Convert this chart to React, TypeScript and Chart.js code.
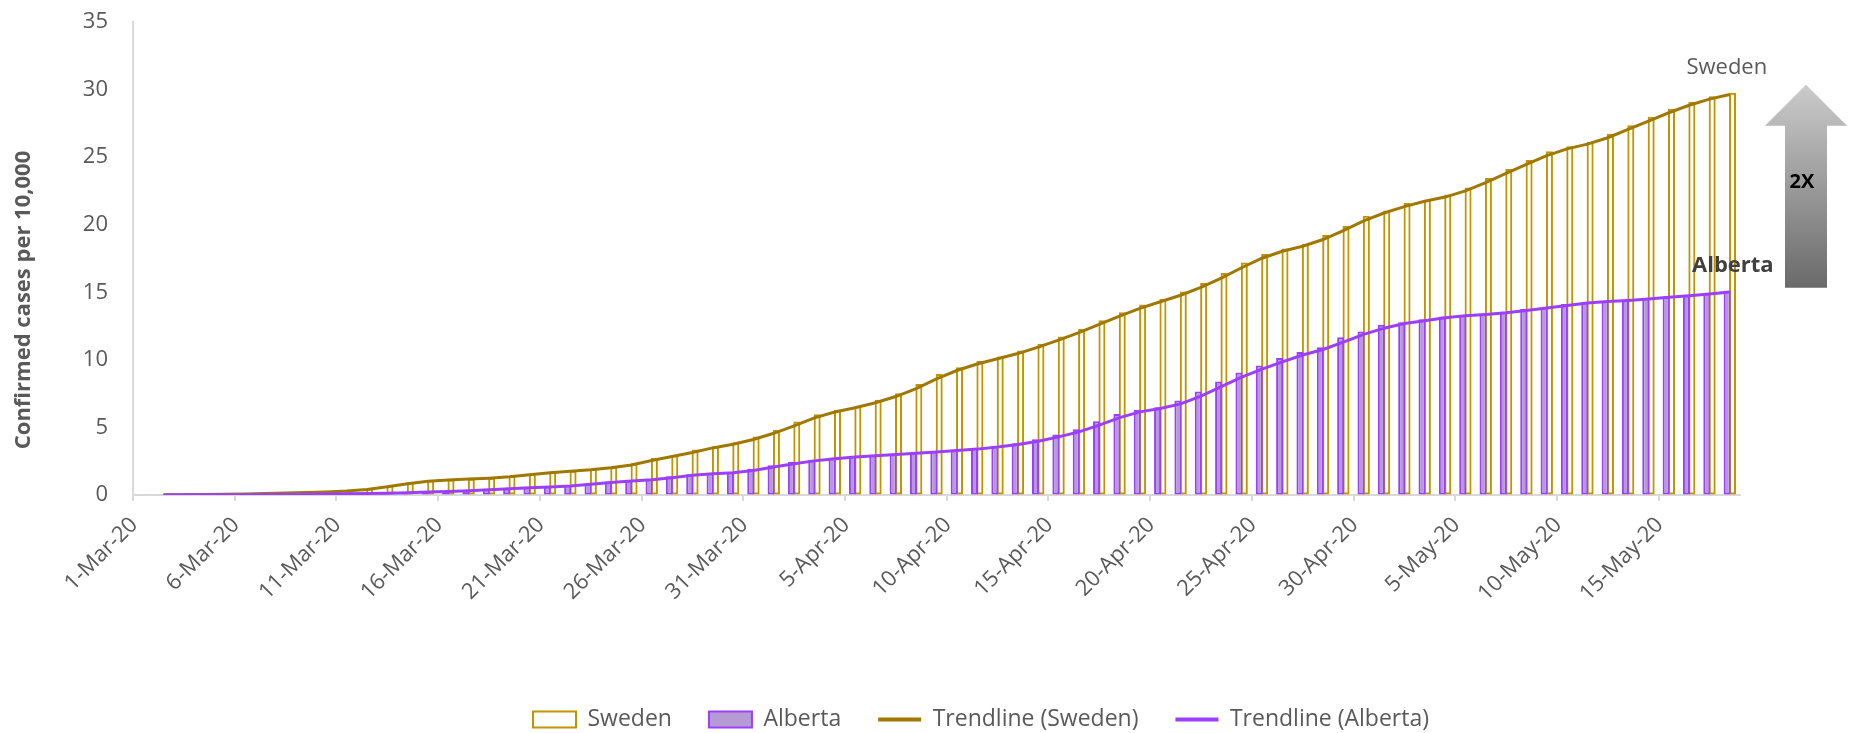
import { useEffect, useRef } from 'react';
import { Chart, registerables } from 'chart.js';

Chart.register(...registerables);

const dateLabels = [
  '1-Mar-20', '2-Mar-20', '3-Mar-20', '4-Mar-20', '5-Mar-20', '6-Mar-20', '7-Mar-20', '8-Mar-20', '9-Mar-20', '10-Mar-20',
  '11-Mar-20', '12-Mar-20', '13-Mar-20', '14-Mar-20', '15-Mar-20', '16-Mar-20', '17-Mar-20', '18-Mar-20', '19-Mar-20', '20-Mar-20',
  '21-Mar-20', '22-Mar-20', '23-Mar-20', '24-Mar-20', '25-Mar-20', '26-Mar-20', '27-Mar-20', '28-Mar-20', '29-Mar-20', '30-Mar-20',
  '31-Mar-20', '1-Apr-20', '2-Apr-20', '3-Apr-20', '4-Apr-20', '5-Apr-20', '6-Apr-20', '7-Apr-20', '8-Apr-20', '9-Apr-20',
  '10-Apr-20', '11-Apr-20', '12-Apr-20', '13-Apr-20', '14-Apr-20', '15-Apr-20', '16-Apr-20', '17-Apr-20', '18-Apr-20', '19-Apr-20',
  '20-Apr-20', '21-Apr-20', '22-Apr-20', '23-Apr-20', '24-Apr-20', '25-Apr-20', '26-Apr-20', '27-Apr-20', '28-Apr-20', '29-Apr-20',
  '30-Apr-20', '1-May-20', '2-May-20', '3-May-20', '4-May-20', '5-May-20', '6-May-20', '7-May-20', '8-May-20', '9-May-20',
  '10-May-20', '11-May-20', '12-May-20', '13-May-20', '14-May-20', '15-May-20', '16-May-20', '17-May-20', '18-May-20',
];

const swedenValues = [
  0.02, 0.02, 0.03, 0.04, 0.06, 0.09, 0.12, 0.16, 0.2, 0.26,
  0.33, 0.49, 0.72, 0.96, 1.09, 1.14, 1.21, 1.28, 1.41, 1.58,
  1.7, 1.8, 1.93, 2.1, 2.35, 2.76, 2.94, 3.36, 3.61, 3.9,
  4.32, 4.81, 5.43, 5.98, 6.3, 6.61, 7.04, 7.53, 8.22, 8.96,
  9.46, 9.93, 10.24, 10.69, 11.19, 11.73, 12.3, 12.94, 13.53, 14.1,
  14.5, 15.06, 15.68, 16.42, 17.21, 17.83, 18.24, 18.57, 19.24, 19.9,
  20.67, 21.06, 21.61, 21.85, 22.24, 22.76, 23.46, 24.13, 24.79, 25.43,
  25.8, 26.13, 26.74, 27.36, 27.98, 28.59, 29.09, 29.5, 29.76,
];

const albertaValues = [
  0, 0.01, 0.01, 0.02, 0.02, 0.03, 0.04, 0.05, 0.06, 0.08,
  0.1, 0.12, 0.15, 0.19, 0.24, 0.29, 0.35, 0.42, 0.49, 0.57,
  0.62, 0.72, 0.86, 0.99, 1.08, 1.18, 1.39, 1.53, 1.61, 1.68,
  1.95, 2.2, 2.44, 2.61, 2.76, 2.87, 2.94, 3.04, 3.13, 3.24,
  3.33, 3.46, 3.63, 3.83, 4.13, 4.47, 4.87, 5.46, 6.0, 6.3,
  6.5, 6.99, 7.65, 8.39, 9.06, 9.58, 10.13, 10.59, 10.94, 11.68,
  12.1, 12.59, 12.79, 13.01, 13.21, 13.31, 13.41, 13.56, 13.76, 13.9,
  14.13, 14.27, 14.35, 14.44, 14.57, 14.69, 14.81, 14.94, 15.11,
];

// Excel-style moving-average trendline period
const trendPeriod = 2;
const labelEvery = 5;
const yTitle = 'Confirmed cases per 10,000';

function movingAverage(vals: number[], period: number): (number | null)[] {
  return vals.map((_, i) => {
    if (i < period - 1) return null;
    let s = 0;
    for (let k = i - period + 1; k <= i; k++) s += vals[k];
    return s / period;
  });
}

const SWEDEN_BORDER = '#C29500';
const SWEDEN_TREND = '#A07800';
const ALBERTA_FILL = '#B69AD3';
const ALBERTA_BORDER = '#9D3EFF';
const TEXT = '#595959';
const AXIS = '#D9D9D9';

const annotationPlugin = {
  id: 'annotations',
  afterDraw(chart: any) {
    const { ctx, chartArea } = chart;
    const xs = chart.scales.x;
    const ys = chart.scales.y;
    const n = dateLabels.length - 1;
    const xLast = xs.getPixelForValue(n);
    const ySw = ys.getPixelForValue(swedenValues[n]);
    const yAb = ys.getPixelForValue(albertaValues[n]);
    ctx.save();

    // y-axis title
    ctx.save();
    ctx.translate(24, 300);
    ctx.rotate(-Math.PI / 2);
    ctx.textAlign = 'center';
    ctx.textBaseline = 'middle';
    ctx.fillStyle = TEXT;
    ctx.font = 'bold 22px "Open Sans"';
    ctx.fillText(yTitle, 0, 0);
    ctx.restore();

    ctx.textAlign = 'center';
    ctx.textBaseline = 'middle';
    ctx.fillStyle = TEXT;
    ctx.font = '22px "Open Sans"';
    ctx.fillText('Sweden', xLast - 3, ySw - 25);
    ctx.fillStyle = '#404040';
    ctx.font = 'bold 22px "Open Sans"';
    ctx.fillText('Alberta', xLast + 3, yAb - 25);

    // arrow
    const tipX = chartArea.right + 66;
    const tipY = ySw - 8;
    const botY = yAb - 3;
    const headY = tipY + 41;
    const headHalf = 41;
    const shaftHalf = 21;
    const grad = ctx.createLinearGradient(0, tipY, 0, botY);
    grad.addColorStop(0, '#CBCBCB');
    grad.addColorStop(1, '#6A6A6A');
    ctx.fillStyle = grad;
    ctx.beginPath();
    ctx.moveTo(tipX, tipY);
    ctx.lineTo(tipX + headHalf, headY);
    ctx.lineTo(tipX + shaftHalf, headY);
    ctx.lineTo(tipX + shaftHalf, botY);
    ctx.lineTo(tipX - shaftHalf, botY);
    ctx.lineTo(tipX - shaftHalf, headY);
    ctx.lineTo(tipX - headHalf, headY);
    ctx.closePath();
    ctx.fill();
    ctx.fillStyle = '#000000';
    ctx.font = 'bold 20px "Open Sans"';
    ctx.fillText('2X', tipX - 4, (tipY + botY) / 2 - 4);
    ctx.restore();
  },
};

export default function App() {
  const ref = useRef<HTMLCanvasElement | null>(null);

  useEffect(() => {
    if (!ref.current) return;
    Chart.defaults.font.family = '"Open Sans", sans-serif';
    const chart = new Chart(ref.current, {
      type: 'bar',
      data: {
        labels: dateLabels,
        datasets: [
          {
            type: 'bar',
            label: 'Sweden',
            data: swedenValues,
            backgroundColor: 'rgba(255,255,255,0)',
            borderColor: SWEDEN_BORDER,
            borderWidth: 2,
            borderSkipped: false,
            categoryPercentage: 0.53,
            barPercentage: 1.3,
            order: 3,
          },
          {
            type: 'bar',
            label: 'Alberta',
            data: albertaValues,
            backgroundColor: ALBERTA_FILL,
            borderColor: ALBERTA_BORDER,
            borderWidth: 2,
            borderSkipped: false,
            categoryPercentage: 0.53,
            barPercentage: 1.3,
            order: 2,
          },
          {
            type: 'line',
            label: 'Trendline (Sweden)',
            data: movingAverage(swedenValues, trendPeriod),
            borderColor: SWEDEN_TREND,
            backgroundColor: SWEDEN_TREND,
            borderWidth: 3,
            pointRadius: 0,
            tension: 0,
            order: 1,
          },
          {
            type: 'line',
            label: 'Trendline (Alberta)',
            data: movingAverage(albertaValues, trendPeriod),
            borderColor: ALBERTA_BORDER,
            backgroundColor: ALBERTA_BORDER,
            borderWidth: 3,
            pointRadius: 0,
            tension: 0,
            order: 0,
          },
        ] as any,
      },
      options: {
        responsive: false,
        animation: false,
        layout: { padding: { left: 80, top: 22, right: -28, bottom: 0 } },
        plugins: {
          tooltip: { enabled: false },
          legend: {
            position: 'bottom',
            maxHeight: 62,
            labels: {
              usePointStyle: true,
              pointStyleWidth: 43,
              boxHeight: 16,
              padding: 37,
              color: TEXT,
              font: { size: 23 },
              generateLabels: (c: any) =>
                c.data.datasets.map((ds: any, i: number) => ({
                  text: ds.label,
                  datasetIndex: i,
                  fillStyle: i === 0 ? '#FFFFFF' : i === 1 ? ALBERTA_FILL : ds.borderColor,
                  strokeStyle: ds.borderColor,
                  lineWidth: i < 2 ? 2 : 4,
                  pointStyle: i < 2 ? 'rect' : 'line',
                  fontColor: TEXT,
                  hidden: false,
                })),
            },
          },
        },
        scales: {
          x: {
            type: 'category',
            offset: true,
            afterFit: (s: any) => {
              s.height = 176;
            },
            grid: {
              offset: true,
              drawOnChartArea: false,
              drawTicks: true,
              tickLength: 6,
              lineWidth: 2,
              color: (ctx: any) => (ctx.index % labelEvery === 0 ? AXIS : 'rgba(0,0,0,0)'),
            },
            border: { color: AXIS, width: 2 },
            ticks: {
              autoSkip: false,
              maxRotation: 45,
              minRotation: 45,
              labelOffset: -9,
              padding: 11,
              color: TEXT,
              font: { size: 22 },
              callback: (_v: any, i: number) => (i % labelEvery === 0 ? dateLabels[i] : ''),
            },
          },
          y: {
            min: 0,
            max: 35,
            afterFit: (s: any) => {
              s.width = 53;
            },
            grid: {
              display: true,
              drawOnChartArea: false,
              drawTicks: true,
              tickLength: 25,
              color: 'rgba(0,0,0,0)',
            },
            border: { color: AXIS, width: 2 },
            ticks: { stepSize: 5, padding: 0, color: TEXT, font: { size: 22 } },
          },
          yRight: {
            position: 'right',
            display: true,
            min: 0,
            max: 35,
            afterFit: (s: any) => {
              s.width = 142;
            },
            grid: { display: false, drawTicks: false },
            border: { display: false },
            ticks: { display: false },
          },
        },
      } as any,
      plugins: [annotationPlugin],
    });
    return () => chart.destroy();
  }, []);

  return (
    <div style={{ position: 'absolute', left: 0, top: 0, width: 1854, height: 733, background: '#fff' }}>
      <canvas ref={ref} width={1854} height={733} style={{ width: 1854, height: 733, display: 'block' }} />
    </div>
  );
}
